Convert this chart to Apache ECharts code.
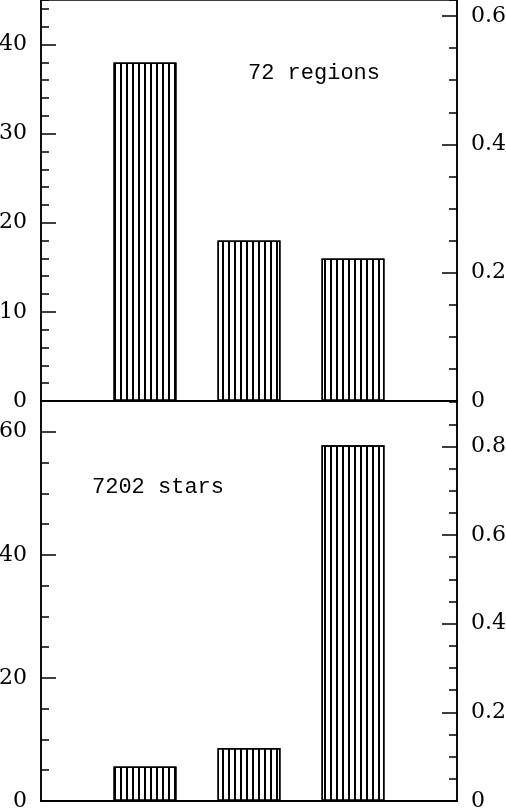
<!DOCTYPE html>
<html>
<head>
<meta charset="utf-8">
<script src="https://cdn.jsdelivr.net/npm/echarts@6/dist/echarts.min.js"></script>
<style>
  html, body { margin: 0; padding: 0; background: #fff; }
  #chart { width: 506px; height: 809px; }
</style>
</head>
<body>
<div id="chart"></div>
<script>
// bar positions along x (0..4) and heights
var positions = [1, 2, 3];
var regionCounts = [38, 18, 16];          // top panel, 72 regions
var starCounts = [5.6, 8.6, 57.8];        // bottom panel, hundreds of stars
var regionTotal = 72;
var starTotal = 72.02;                    // 7202 stars, in hundreds
var topMax = 45, bottomMax = 65;

;(function () {
  var chart = echarts.init(document.getElementById('chart'));
  var font = 'DejaVu Serif';

  function pairs(ys) {
    return positions.map(function (x, i) { return [x, ys[i]]; });
  }

  function yAxes(grid, max, interval, minor, rMax) {
    var lab = { color: '#000', fontFamily: font, fontSize: 22, margin: 14, showMaxLabel: false };
    return [
      { gridIndex: grid, type: 'value', position: 'left', min: 0, max: max, interval: interval,
        axisLine: { show: true, lineStyle: { color: '#000', width: 1.5 } },
        axisTick: { inside: true, length: 15, lineStyle: { color: '#000', width: 1.5 } },
        axisLabel: lab, splitLine: { show: false } },
      { gridIndex: grid, type: 'value', position: 'left', min: 0, max: max, interval: minor,
        axisLine: { show: false },
        axisTick: { inside: true, length: 8, lineStyle: { color: '#000', width: 1.5 } },
        axisLabel: { show: false }, splitLine: { show: false } },
      { gridIndex: grid, type: 'value', position: 'right', min: 0, max: rMax, interval: 0.2,
        axisLine: { show: true, lineStyle: { color: '#000', width: 1.5 } },
        axisTick: { inside: true, length: 15, lineStyle: { color: '#000', width: 1.5 } },
        axisLabel: lab, splitLine: { show: false } },
      { gridIndex: grid, type: 'value', position: 'right', min: 0, max: rMax, interval: 0.05,
        axisLine: { show: false },
        axisTick: { inside: true, length: 8, lineStyle: { color: '#000', width: 1.5 } },
        axisLabel: { show: false }, splitLine: { show: false } }
    ];
  }

  function xAxis(grid) {
    return { gridIndex: grid, type: 'value', min: 0, max: 4, position: 'bottom',
      axisLine: { show: true, onZero: false, lineStyle: { color: '#000', width: 2 } },
      axisTick: { show: false }, axisLabel: { show: false }, splitLine: { show: false } };
  }

  var hatch = {
    color: '#fff', borderColor: '#000', borderWidth: 1.5,
    decal: { symbol: 'rect', symbolSize: 1, dashArrayX: [1.2, 4], dashArrayY: [20, 0],
      rotation: 0, color: '#000' }
  };

  var option = {
    animation: false,
    backgroundColor: '#fff',
    grid: [
      { left: 41, right: 49, top: 0, height: 401, show: true, borderColor: '#000', borderWidth: 1.5,
        containLabel: false, outerBoundsMode: 'none' },
      { left: 41, right: 49, top: 401, height: 400, show: true, borderColor: '#000', borderWidth: 1.5,
        containLabel: false, outerBoundsMode: 'none' }
    ],
    xAxis: [xAxis(0), xAxis(1)],
    yAxis: yAxes(0, topMax, 10, 2, topMax / regionTotal)
      .concat(yAxes(1, bottomMax, 20, 5, bottomMax / starTotal)),
    graphic: [
      { type: 'text', left: 248, top: 62,
        style: { text: '72 regions', font: '22px "Liberation Mono"', fill: '#000' } },
      { type: 'text', left: 92, top: 476,
        style: { text: '7202 stars', font: '22px "Liberation Mono"', fill: '#000' } }
    ],
    series: [
      { type: 'bar', xAxisIndex: 0, yAxisIndex: 0, barWidth: 63,
        data: pairs(regionCounts), itemStyle: hatch },
      { type: 'bar', xAxisIndex: 1, yAxisIndex: 4, barWidth: 63,
        data: pairs(starCounts), itemStyle: hatch }
    ]
  };

  chart.setOption(option);
})();
</script>
</body>
</html>
